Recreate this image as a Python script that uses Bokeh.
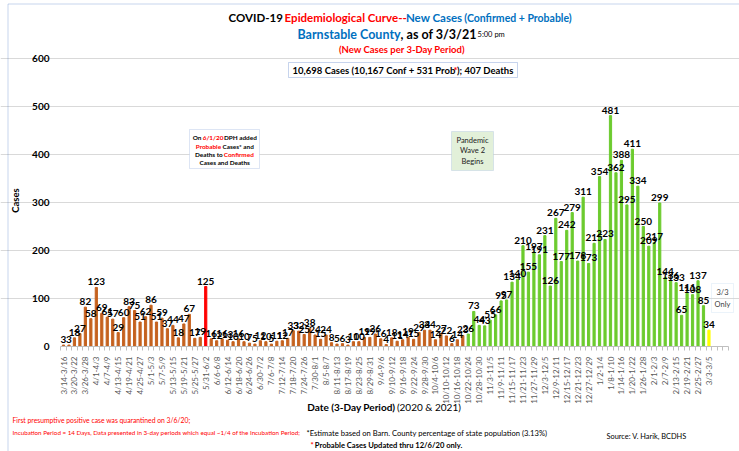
import math
from bokeh.plotting import figure
from bokeh.models import Range1d, FixedTicker, Label, BoxAnnotation, ColumnDataSource
from bokeh.embed import file_html
from bokeh.resources import INLINE
from bokeh.core.properties import value

# ---------------- data ----------------
period_labels = [
    "3/14-3/16", "3/20-3/22", "3/26-3/28", "4/1-4/3", "4/7-4/9", "4/13-4/15",
    "4/19-4/21", "4/25-4/27", "5/1-5/3", "5/7-5/9", "5/13-5/15", "5/19-5/21",
    "5/25-5/27", "5/31-6/2", "6/6-6/8", "6/12-6/14", "6/18-6/20", "6/24-6/26",
    "6/30-7/2", "7/6-7/8", "7/12-7/14", "7/18-7/20", "7/24-7/26", "7/30-8/1",
    "8/5-8/7", "8/11-8/13", "8/17-8/19", "8/23-8/25", "8/29-8/31", "9/4-9/6",
    "9/10-9/12", "9/16-9/18", "9/22-9/24", "9/28-9/30", "10/4-10/6", "10/10-10/12",
    "10/16-10/18", "10/22-10/24", "10/28-10/30", "11/3-11/5", "11/9-11/11", "11/15-11/17",
    "11/21-11/23", "11/27-11/29", "12/3-12/5", "12/9-12/11", "12/15-12/17", "12/21-12/23",
    "12/27-12/29", "1/2-1/4", "1/8-1/10", "1/14-1/16", "1/20-1/22", "1/26-1/28",
    "2/1-2/3", "2/7-2/9", "2/13-2/15", "2/19-2/21", "2/25-2/27", "3/3-3/5",
]

wave1_cases = [
    3, 3, 18, 27, 82, 58, 123, 69, 61, 57, 29, 60, 83, 75, 51, 62, 86, 51, 59, 37,
    44, 18, 47, 67, 17, 19, 125, 16, 12, 16, 13, 10, 16, 10, 7, 5, 12, 10, 5, 11,
    12, 17, 33, 32, 25, 38, 24, 15, 24, 8, 5, 6, 3, 10, 10, 19, 19, 26, 16, 4,
    18, 11, 14, 19, 15, 29, 34, 34, 14, 27, 22, 6, 14, 23,
]
wave2_cases = [
    26, 73, 44, 43, 55, 66, 95, 97, 134, 140, 210, 155, 197, 191, 231, 126, 267, 177,
    242, 279, 178, 311, 173, 215, 354, 223, 481, 362, 388, 295, 411, 334, 250, 209,
    217, 299, 144, 136, 133, 65, 111, 108, 137, 85,
]
partial_cases = [34]          # 3/3 only
dph_change_period = 26        # 5/31-6/2 (probable cases added)
y_ticks = [0, 100, 200, 300, 400, 500, 600]

# ---------------- helpers ----------------
W_BOLD = {' ': .2, ',': .23, '.': .23, '(': .3, ')': .3, '*': .37, '+': .58, '-': .35,
          '/': .4, ';': .24, ':': .24, '%': .8, '&': .7, '=': .58, '~': .58}
for ch in "0123456789":
    W_BOLD[ch] = .58
W_BOLD.update(dict(a=.51, b=.57, c=.47, d=.57, e=.53, f=.34, g=.52, h=.57, i=.25, j=.25,
                   k=.53, l=.25, m=.86, n=.57, o=.57, p=.57, q=.57, r=.38, s=.44, t=.37,
                   u=.57, v=.53, w=.8, x=.52, y=.53, z=.46))
W_BOLD.update(dict(A=.68, B=.65, C=.66, D=.74, E=.56, F=.54, G=.72, H=.76, I=.29, J=.4,
                   K=.68, L=.5, M=.9, N=.76, O=.79, P=.61, Q=.79, R=.64, S=.53, T=.6,
                   U=.73, V=.68, W=1.0, X=.66, Y=.63, Z=.6))


def tw(text, size, bold=True):
    w = sum(W_BOLD.get(c, .55) for c in text) * size
    return w if bold else w * 0.96


# The frame fills the whole canvas; axes are drawn at fixed data locations inside it.
W, H = 739, 451
BAR0_PX, BAR_STEP = 63, 5.47     # canvas x of first bar, px per period
ZERO_PX, PX_PER_100 = 346, 48.0  # canvas y of zero line, px per 100 cases
FONT = "Lato"

x0 = -BAR0_PX / BAR_STEP
x1 = (W - BAR0_PX) / BAR_STEP
y1 = ZERO_PX / PX_PER_100 * 100
y0 = -(H - ZERO_PX) / PX_PER_100 * 100
plot_left = -0.55
plot_right = 121.6

p = figure(width=W, height=H, x_range=Range1d(x0, x1), y_range=Range1d(y0, y1),
           output_backend="svg", toolbar_location=None,
           min_border_left=0, min_border_right=0, min_border_top=0, min_border_bottom=0)


def label(text, X, Y, size, color="black", bold=True, align="left", angle=0):
    p.add_layout(Label(x=X, y=H - Y, x_units="screen", y_units="screen",
                       text=text, text_font=FONT, text_font_size=f"{size}px",
                       text_font_style="bold" if bold else "normal", text_color=color,
                       text_align=align, text_baseline="middle", angle=angle))


def line(segments, Y, center=None, start=None):
    total = sum(tw(t, s, b) for t, s, c, b in segments)
    x = start if start is not None else center - total / 2
    for t, s, c, b in segments:
        lead = len(t) - len(t.lstrip(" "))
        x += tw(" " * lead, s, b)
        label(t.strip(" "), x, Y, s, c, b)
        x += tw(t.lstrip(" "), s, b)


def box(X0, X1, Y0, Y1, line_color, fill_color=None, lw=1):
    p.add_layout(BoxAnnotation(left=X0, right=X1, top=H - Y0, bottom=H - Y1,
                               left_units="screen", right_units="screen",
                               top_units="screen", bottom_units="screen",
                               fill_color=fill_color, fill_alpha=1 if fill_color else 0,
                               line_color=line_color, line_width=lw))


# ---------------- grid ----------------
p.xgrid.grid_line_color = None
p.ygrid.ticker = FixedTicker(ticks=y_ticks[1:])
p.ygrid.bounds = (plot_left, plot_right)
p.ygrid.grid_line_color = "#D9D9D9"
p.outline_line_color = None

# ---------------- bars ----------------
cases = wave1_cases + wave2_cases + partial_cases
idx = list(range(len(cases)))
colors = []
for i in idx:
    if i == dph_change_period:
        colors.append("#FF0000")
    elif i < len(wave1_cases):
        colors.append("#C5621F")
    elif i < len(wave1_cases) + len(wave2_cases):
        colors.append("#6CCB2E")
    else:
        colors.append("#FFFF00")

src = ColumnDataSource(dict(x=idx, top=cases, color=colors, txt=[str(v) for v in cases]))
p.vbar(x="x", top="top", width=0.4, color="color", source=src)
p.text(x="x", y="top", text="txt", source=src, text_align="center", text_baseline="bottom",
       y_offset=-2, text_font=value(FONT), text_font_style="bold", text_font_size="10px",
       text_color="black")

# ---------------- axes (fixed inside the frame) ----------------
tick_pos = list(range(0, 2 * len(period_labels), 2))
xa = p.xaxis[0]
xa.fixed_location = 0
xa.bounds = (plot_left, plot_right)
xa.ticker = FixedTicker(ticks=tick_pos, minor_ticks=[i - 0.5 for i in range(0, 123)])
xa.major_label_overrides = {t: lab for t, lab in zip(tick_pos, period_labels)}
xa.major_label_orientation = math.pi / 2
xa.major_label_text_font = FONT
xa.major_label_text_font_size = "8px"
xa.major_label_text_color = "#595959"
xa.major_label_standoff = 4
xa.major_tick_line_color = None
xa.minor_tick_line_color = "#BFBFBF"
xa.minor_tick_out = 4
xa.minor_tick_in = 0
xa.axis_line_color = "#BFBFBF"

ya = p.yaxis[0]
ya.fixed_location = plot_left
ya.bounds = (0, 600)
ya.ticker = FixedTicker(ticks=y_ticks)
ya.axis_line_color = None
ya.major_tick_line_color = None
ya.minor_tick_line_color = None
ya.major_label_text_font = FONT
ya.major_label_text_font_style = "bold"
ya.major_label_text_font_size = "10px"
ya.major_label_text_color = "black"
ya.major_label_standoff = 5

# ---------------- frame border (blue) ----------------
box(7.5, 800, 3.5, 600, "#4472C4")

# ---------------- titles ----------------
RED, BLUE = "#FF0000", "#0070C0"
line([("COVID-19 ", 11.5, "black", True), ("Epidemiological Curve--", 11.5, RED, True),
      ("New Cases ", 11.5, BLUE, True), ("(Confirmed + Probable)", 10.5, BLUE, True)], 17, center=400)
line([("Barnstable County", 12.5, BLUE, True), (", as of 3/3/21", 12.5, "black", True),
      ("   5:00 pm", 7.5, "black", False)], 34, center=400)
line([("(New Cases per 3-Day Period)", 9.5, RED, True)], 49, center=401)

# ---------------- boxes ----------------
box(288, 517, 62, 77, "#4472C4", "white")
line([("10,698 Cases (10,167 Conf + 531 Prob", 9.5, "black", True), ("*", 9.5, RED, True),
      ("); 407 Deaths", 9.5, "black", True)], 70, center=402)

box(189, 259, 129, 168, "#8FAADC", "white")
line([("On ", 6.4, "black", True), ("6/1/20", 6.4, RED, True), (" DPH added", 6.4, "black", True)], 137, center=224)
line([("Probable", 6.4, RED, True), (" Cases* and", 6.4, "black", True)], 146, center=224)
line([("Deaths to ", 6.4, "black", True), ("Confirmed", 6.4, RED, True)], 154, center=224)
line([("Cases and Deaths", 6.4, "black", True)], 162, center=224)

box(451, 493, 131, 170, "#9DB7D9", "#E2F0D9")
label("Pandemic", 472, 140, 7.5, "#222222", False, "center")
label("Wave 2", 472, 150, 7.5, "#222222", False, "center")
label("Begins", 472, 161, 7.5, "#222222", False, "center")

box(711, 733, 283, 312, "#BDD7EE", None)
label("3/3", 722, 292, 7.5, "#404040", False, "center")
label("Only", 722, 304, 7.5, "#404040", False, "center")

# ---------------- axis titles ----------------
label("Cases", 15, 200, 9.5, "black", True, "center", angle=math.pi / 2)
line([("Date (3-Day Period)", 10, "black", True), (" (2020 & 2021)", 10, "black", False)], 406, center=382)

# ---------------- footnotes ----------------
label("First presumptive positive case was quarantined on 3/6/20;", 12, 419, 6.8, RED, False)
label("Incubation Period = 14 Days, Data presented in 3-day periods which equal ~1/4 of the Incubation Period;",
      12, 432, 6.25, RED, False)
label("*Estimate based on Barn. County percentage of state population (3.13%)", 306, 432, 7.6, "black", False)
line([("* ", 7.6, RED, True), ("Probable Cases Updated thru 12/6/20 only.", 7.6, "black", True)], 444, start=310)
label("Source: V. Harik, BCDHS", 606, 436, 7.4, "black", False)

open("out.html", "w").write(file_html(p, INLINE))
